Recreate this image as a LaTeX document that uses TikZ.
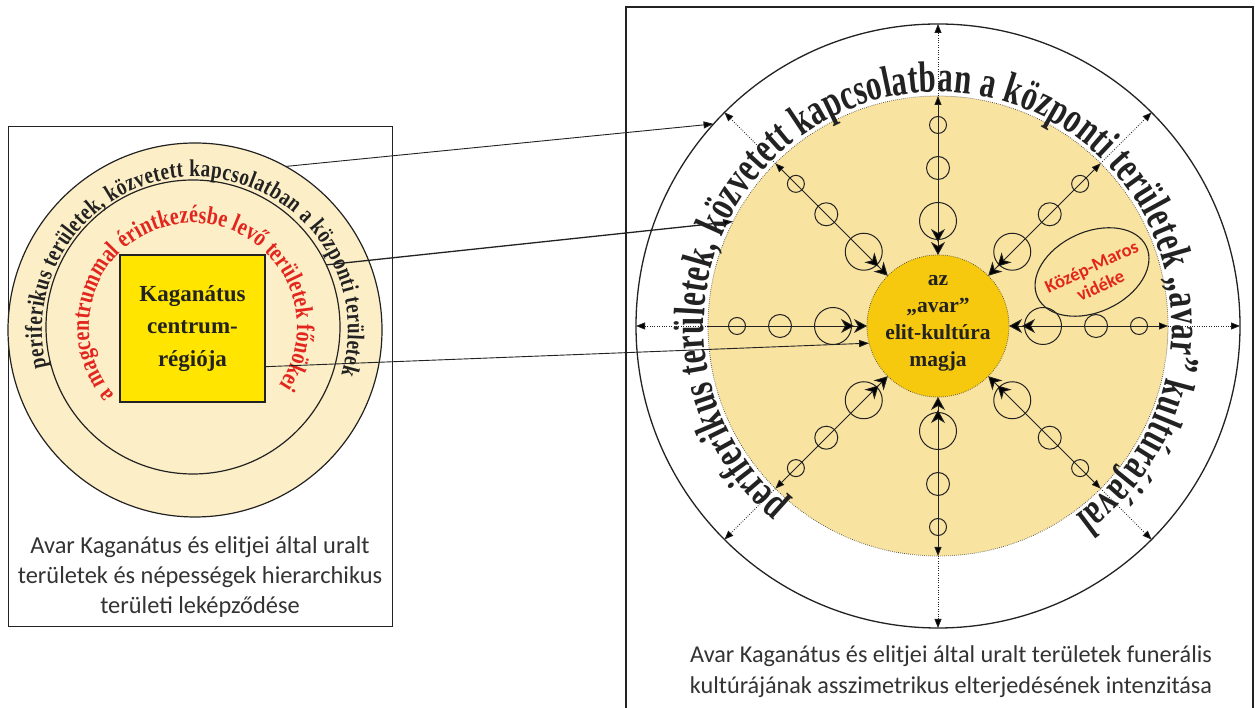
\documentclass[tikz,border=0pt]{standalone}
\usepackage{fontspec}
\setmainfont{Liberation Serif}
\newfontfamily\capfont{Carlito}
\newfontfamily\bigarcfont[FakeStretch=0.70]{Liberation Serif}
\newfontfamily\ringfont[FakeStretch=0.80]{Liberation Serif}
\newfontfamily\redfont[FakeStretch=0.80]{Liberation Serif}
\usetikzlibrary{arrows.meta,decorations.text,shapes.geometric,calc}
\definecolor{cream}{RGB}{252,238,198}
\definecolor{paleyellow}{RGB}{249,227,160}
\definecolor{gold}{RGB}{246,201,14}
\definecolor{sqyellow}{RGB}{255,229,0}
\definecolor{redtxt}{RGB}{226,38,30}
\definecolor{ink}{RGB}{34,34,34}
\definecolor{captxt}{RGB}{51,51,51}
\begin{document}
\begin{tikzpicture}[x=1pt,y=1pt,
  frame/.style={draw=ink, line width=1.4pt},
  ring/.style={circle, draw=ink, line width=1.2pt, inner sep=0pt, outer sep=0pt},
  dotborder/.style={circle, draw=ink!85, line width=0.8pt, dash pattern=on 0.6pt off 1.4pt, inner sep=0pt, outer sep=0pt},
  heavytip/.style={-{Stealth[length=13pt,width=14pt,inset=4pt]Stealth[length=13pt,width=14pt,inset=4pt]}},
  ray/.style={draw=ink, line width=0.9pt, {Triangle[length=9pt,width=7pt]}-{Stealth[length=13pt,width=14pt,inset=4pt]Stealth[length=13pt,width=14pt,inset=4pt]}},
  ext/.style={draw=ink, line width=0.8pt, dash pattern=on 0.8pt off 1.6pt, -{Triangle[length=9pt,width=7pt]}},
  bead/.style={draw=ink, line width=1pt},
  link/.style={draw=ink, line width=0.9pt, -{Triangle[length=10pt,width=7pt]}},
  captext/.style={font=\capfont\fontsize{24.4}{30}\selectfont, text=captxt, align=center}
]
\useasboundingbox (0,0) rectangle (1255,708);
\fill[white] (0,0) rectangle (1255,708);
% ---------- left panel ----------
\node[frame, rectangle, minimum width=384, minimum height=500, inner sep=0pt, anchor=south west] (lbox) at (8,81) {};
\node[ring, fill=cream, minimum size=374] (lo) at (195,378) {};
\node[ring, fill=cream, minimum size=294] (li) at (193,381) {};
\node[rectangle, draw=ink, line width=1.2pt, fill=sqyellow, minimum width=145, minimum height=147, inner sep=0pt, outer sep=0pt,
      font=\bfseries\fontsize{23}{32.5}\selectfont, text=ink, align=center] (sq) at (192.5,379.5) {Kaganátus\\centrum-\\régiója};
\path[decorate, decoration={text along path, text align={fit to path}, text color=ink,
      text={|\ringfont\bfseries\fontsize{24}{24}\selectfont|periferikus területek, közvetett kapcsolatban a központi területek}}]
  ([shift={(194:153)}]lo.center) arc[start angle=194, end angle=-17, radius=153];
\path[decorate, decoration={text along path, text align={fit to path}, text color=redtxt,
      text={|\redfont\bfseries\fontsize{25}{25}\selectfont|a magcentrummal érintkezésbe levő területek főnökei}}]
  ([shift={(221:104)}]li.center) arc[start angle=221, end angle=-34, radius=104];
\node[captext] (lcap) at (200,131) {Avar Kaganátus és elitjei által uralt\\területek és népességek hierarchikus\\területi leképződése};
% ---------- right panel ----------
\draw[frame] (626,-5) -- (626,701) -- (1253,701) -- (1253,-5);
\coordinate (C) at (938,382);
\node[ring, line width=1.3pt, minimum size=604] (ro) at (C) {};
\node[dotborder, fill=paleyellow, minimum size=460] (yd) at (C) {};
\path[decorate, decoration={text along path, text align={fit to path}, text color=ink,
      text={|\bigarcfont\bfseries\fontsize{44}{44}\selectfont|periferikus területek, közvetett kapcsolatban a központi területek „avar” kultúrájával}}]
  ([shift={(230:234)}]C) arc[start angle=230, end angle=-54, radius=234];
\node[ellipse, draw=ink, line width=1.1pt, minimum width=120, minimum height=80, rotate=25, inner sep=0pt] (km) at (1092,436) {};
\node[font=\capfont\bfseries\fontsize{18.5}{21}\selectfont, text=redtxt, rotate=25, align=center] (kmtext) at (1096,432) {Közép-Maros\\vidéke};
\node[dotborder, fill=gold, minimum size=142] (cc) at (C) {};
\foreach \a in {0,45,...,315} {
  \draw[bead] ($(C)+(\a:105)$) circle[radius=18.5];
  \draw[bead] ($(C)+(\a:158)$) circle[radius=11.5];
  \draw[bead] ($(C)+(\a:201)$) circle[radius=8.5];
  \draw[ext] (yd.\a) -- (ro.\a);
}
\foreach \a in {0,45,90,135,225,270,315} {
  \draw[ray] (yd.\a) -- (cc.\a);
}
\draw[draw=ink, line width=0.9pt, heavytip] (yd.180) -- (cc.180);
\node[font=\bfseries\fontsize{21.5}{27}\selectfont, text=ink, align=center] (cctext) at (938,385) {az\\„avar”\\elit-kultúra\\magja};
\node[captext, font=\capfont\fontsize{24.2}{31}\selectfont] (rcap) at (951,36) {Avar Kaganátus és elitjei által uralt területek funerális\\kultúrájának asszimetrikus elterjedésének intenzitása};
% ---------- connectors ----------
\draw[link] (lo.61) -- (ro.138);
\draw[link, line width=1.3pt] (li.25) -- (yd.153);
\coordinate (sqe) at ($(sq.south east)!0.24!(sq.north east)$);
\draw[link] (sqe) -- (cc.194);
\end{tikzpicture}
\end{document}
